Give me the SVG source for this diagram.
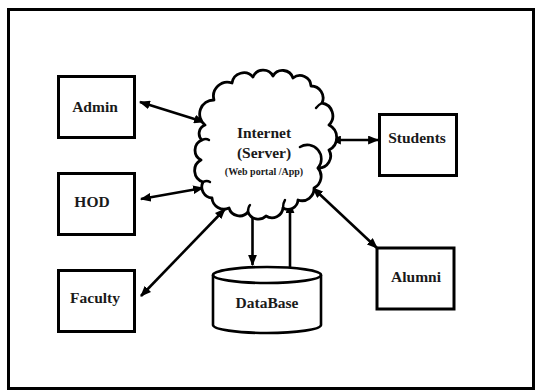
<svg xmlns="http://www.w3.org/2000/svg" width="535" height="391" viewBox="0 0 535 391">
<style>
.box{fill:#fff;stroke:#000;stroke-width:3}
.lbl{font-family:"Liberation Serif","Times New Roman",serif;font-weight:bold;font-size:15.5px;fill:#1a1a1a;text-anchor:middle}
.conn{stroke:#000;stroke-width:2.6;fill:none;marker-start:url(#ah);marker-end:url(#ah)}
.one{stroke:#000;stroke-width:2.6;fill:none;marker-end:url(#ah)}
.cloud{fill:#fff;stroke:#000;stroke-width:2.8;stroke-linejoin:round;stroke-linecap:round}
</style>
<defs>
<marker id="ah" viewBox="0 0 10 8" refX="9" refY="4" markerWidth="11" markerHeight="9" markerUnits="userSpaceOnUse" orient="auto-start-reverse">
<path d="M0,0 L10,4 L0,8 z" fill="#000"/>
</marker>
</defs>
<rect x="0" y="0" width="535" height="391" fill="#fff"/>
<rect id="frame" x="8.5" y="9.5" width="525" height="379" fill="none" stroke="#000" stroke-width="3"/>

<g id="connectors">
<line class="conn" x1="140" y1="102" x2="204" y2="122"/>
<line class="conn" x1="141" y1="199" x2="203" y2="188"/>
<line class="conn" x1="141" y1="296" x2="225" y2="209"/>
<line class="conn" x1="331" y1="140" x2="378" y2="140"/>
<line class="conn" x1="313" y1="188" x2="377" y2="248"/>
<line class="one" x1="252.5" y1="211" x2="252.5" y2="265"/>
<line class="one" x1="290" y1="267" x2="290" y2="203"/>
</g>

<g id="cloud">
<path class="cloud" d="M205,125 A14,14 0 0 1 214,100 A14,14 0 0 1 232,83 A12,12 0 0 1 253,77 A11,11 0 0 1 273,76 A11,11 0 0 1 293,78 A11,11 0 0 1 311,86 A12,12 0 0 1 322,103 A13,13 0 0 1 329,125 A14,14 0 0 1 329,150 A12,12 0 0 1 318,168 A13,13 0 0 1 314,188 A12,12 0 0 1 298,200 A10,10 0 0 1 283,208 A11,11 0 0 1 266,216 A11,11 0 0 1 248,212 A11,11 0 0 1 229,208 A12,12 0 0 1 212,198 A11,11 0 0 1 203,182 A12,12 0 0 1 201,160 A11,11 0 0 1 202,140 A9,9 0 0 1 205,125 Z"/>
<path d="M300,147 A14,14 0 0 1 318,168" fill="none" stroke="#000" stroke-width="2.6" stroke-linecap="round"/>
<path d="M202,140 Q206,138 209,140" fill="none" stroke="#000" stroke-width="2.4" stroke-linecap="round"/>
<path d="M203,182 Q207,180 210,182" fill="none" stroke="#000" stroke-width="2.4" stroke-linecap="round"/>
<path d="M248,212 Q248,207 250,205" fill="none" stroke="#000" stroke-width="2.4" stroke-linecap="round"/>
<path d="M283,208 Q283,203 285,200" fill="none" stroke="#000" stroke-width="2.4" stroke-linecap="round"/>
<path d="M322,103 Q318,105 316,108" fill="none" stroke="#000" stroke-width="2.4" stroke-linecap="round"/>
<text class="lbl" x="264" y="138" font-size="16">Internet</text>
<text class="lbl" x="264" y="158" font-size="16">(Server)</text>
<text class="lbl" x="264" y="175" style="font-size:10px">(Web portal /App)</text>
</g>

<g id="admin">
<rect class="box" x="58.5" y="76.5" width="76" height="61"/>
<text class="lbl" x="95" y="112">Admin</text>
</g>
<g id="hod">
<rect class="box" x="58.5" y="173.5" width="76" height="61"/>
<text class="lbl" x="92" y="207">HOD</text>
</g>
<g id="faculty">
<rect class="box" x="58.5" y="270.5" width="76" height="61"/>
<text class="lbl" x="95" y="303">Faculty</text>
</g>
<g id="students">
<rect class="box" x="379.5" y="114.5" width="77" height="61"/>
<text class="lbl" x="417" y="143">Students</text>
</g>
<g id="alumni">
<rect class="box" x="377" y="248" width="77" height="61"/>
<text class="lbl" x="416" y="282">Alumni</text>
</g>
<g id="database">
<path d="M213,275 L213,325 A54,8 0 0 0 321,325 L321,275" fill="#fff" stroke="#000" stroke-width="2.6"/>
<ellipse cx="267" cy="275" rx="54" ry="8" fill="#fff" stroke="#000" stroke-width="2.6"/>
<text class="lbl" x="267" y="308">DataBase</text>
</g>
</svg>
